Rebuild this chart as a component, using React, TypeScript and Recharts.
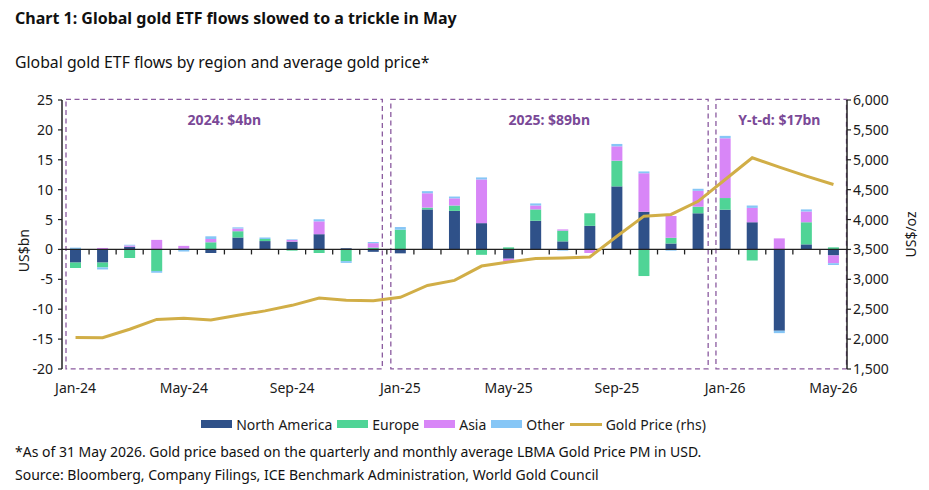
import React from 'react';
import { ComposedChart, Bar, Line, XAxis, YAxis, ReferenceLine, ReferenceArea, Legend } from 'recharts';

const months = [
  'Jan-24', 'Feb-24', 'Mar-24', 'Apr-24', 'May-24', 'Jun-24', 'Jul-24', 'Aug-24', 'Sep-24', 'Oct-24', 'Nov-24', 'Dec-24',
  'Jan-25', 'Feb-25', 'Mar-25', 'Apr-25', 'May-25', 'Jun-25', 'Jul-25', 'Aug-25', 'Sep-25', 'Oct-25', 'Nov-25', 'Dec-25',
  'Jan-26', 'Feb-26', 'Mar-26', 'Apr-26', 'May-26',
];

const northAmerica = [
  -2.2, -2.2, 0.45, 0, 0.15, -0.6, 2.0, 1.4, 1.3, 2.55, 0.2, -0.4,
  -0.65, 6.7, 6.45, 4.4, -1.55, 4.8, 1.35, 3.95, 10.55, 6.3, 1.0, 6.05,
  6.65, 4.55, -13.6, 0.85, -1.0,
];

const europe = [
  -0.9, -0.8, -1.45, -3.6, 0, 1.2, 1.05, 0.35, -0.2, -0.6, -1.95, 0.3,
  3.3, 0.3, 0.9, -0.9, 0.35, 1.9, 1.8, 2.1, 4.3, -4.45, 0.95, 1.1,
  1.95, -1.85, 0, 3.7, 0.35,
];

const asia = [
  0, 0.25, 0.2, 1.6, 0.45, 0.55, 0.45, 0, 0.3, 2.15, 0, 0.75,
  0, 2.4, 1.2, 7.3, -0.5, 0.65, 0.2, -0.6, 2.4, 6.45, 3.65, 2.65,
  10.0, 2.4, 1.85, 1.8, -1.3,
];

const other = [
  0.3, -0.35, 0.15, -0.3, -0.35, 0.45, 0.2, 0.25, 0.1, 0.35, -0.3, 0.2,
  0.45, 0.35, 0.3, 0.35, 0, 0.35, -0.2, 0, 0.4, 0.3, -0.2, 0.35,
  0.4, 0.4, -0.4, 0.35, -0.3,
];

const goldPrice = [
  2028, 2024, 2165, 2330, 2350, 2320, 2400, 2472, 2565, 2688, 2650, 2640,
  2700, 2897, 2982, 3222, 3290, 3350, 3358, 3375, 3720, 4057, 4085, 4305,
  4670, 5034, 4877, 4727, 4587,
];

const leftTicks = [-20, -15, -10, -5, 0, 5, 10, 15, 20, 25];
const rightTicks = [1500, 2000, 2500, 3000, 3500, 4000, 4500, 5000, 5500, 6000];

const periodStarts = ['Jan-24', 'Jan-25', 'Jan-26'];
const periodEnds = ['Dec-24', 'Dec-25', 'May-26'];
const periodLabels = ['2024: $4bn', '2025: $89bn', 'Y-t-d: $17bn'];

const seriesKeys = ['na', 'eu', 'asia', 'other'];
const seriesNames = ['North America', 'Europe', 'Asia', 'Other'];
const seriesColors = ['#2f5189', '#4fd496', '#d886f7', '#86c6f6'];
const goldName = 'Gold Price (rhs)';
const goldColor = '#d1ae47';

const LEFT_MIN = -20;
const LEFT_MAX = 25;
const LABEL_EVERY = 4;

// layout
const CHART_W = 929;
const CHART_H = 490;
const MARGIN = { top: 100, right: 22, bottom: 71, left: 0 };
const LEFT_AXIS_W = 62;
const RIGHT_AXIS_W = 60;
const X_AXIS_H = 30;
const LEGEND_H = 20;
const PLOT_W = CHART_W - MARGIN.left - MARGIN.right - LEFT_AXIS_W - RIGHT_AXIS_W;
const PLOT_H = CHART_H - MARGIN.top - MARGIN.bottom - X_AXIS_H - LEGEND_H;
const ZERO_Y = MARGIN.top + (PLOT_H * LEFT_MAX) / (LEFT_MAX - LEFT_MIN);
const HALF_BAND = PLOT_W / months.length / 2;

const FONT = '"Noto Sans", "Open Sans", sans-serif';
const TEXT = '#1a1a1a';
const AXIS = '#222';
const PURPLE = '#8a5a9f';
const PURPLE_TEXT = '#7a4997';

const data = months.map((m, i) => ({
  month: m,
  na: northAmerica[i],
  eu: europe[i],
  asia: asia[i],
  other: other[i],
  gold: goldPrice[i],
}));

const boxInsets = [
  [4, 4.5],
  [4, 3.5],
  [4.3, 0.5],
];

const makeBox = (idx: number) => (props: any) => {
  const { x, y, width, height } = props;
  const [l, r] = boxInsets[idx];
  return (
    <rect
      x={x + l}
      y={y - 0.7}
      width={width - l - r}
      height={height + 0.5}
      fill="none"
      stroke={PURPLE}
      strokeWidth={1.3}
      strokeDasharray="5 3.5"
    />
  );
};

// tick label every 4 months, plus a short tick on the zero line at each month boundary
const MonthTick = (props: any) => {
  const { x, y, payload, index } = props;
  const bx = Number(x) + HALF_BAND;
  return (
    <g>
      {index < months.length - 1 ? (
        <path d={`M${bx},${ZERO_Y}L${bx},${ZERO_Y + 5}`} stroke={AXIS} strokeWidth={1.3} fill="none" />
      ) : null}
      {index % LABEL_EVERY === 0 ? (
        <text x={x} y={y} dy="0.71em" textAnchor="middle" fontSize={14} fontFamily={FONT} fill={TEXT}>
          {payload.value}
        </text>
      ) : null}
    </g>
  );
};

const LeftTitle = (props: any) => {
  const vb = props.viewBox || {};
  const cx = vb.x + 23;
  const cy = vb.y + vb.height * 0.56;
  return (
    <text
      transform={`translate(${cx},${cy}) rotate(-90)`}
      textAnchor="middle"
      dominantBaseline="central"
      fontSize={14}
      fontFamily={FONT}
      fill={TEXT}
    >
      US$bn
    </text>
  );
};

const RightTitle = (props: any) => {
  const vb = props.viewBox || {};
  const cx = vb.x + 63;
  const cy = vb.y + vb.height * 0.5;
  return (
    <text
      transform={`translate(${cx},${cy}) rotate(-90)`}
      textAnchor="middle"
      dominantBaseline="central"
      fontSize={14}
      fontFamily={FONT}
      fill={TEXT}
    >
      US$/oz
    </text>
  );
};

const LegendContent = () => (
  <div
    style={{
      display: 'flex',
      justifyContent: 'center',
      alignItems: 'center',
      height: LEGEND_H,
      fontFamily: FONT,
      fontSize: 14,
      color: TEXT,
      whiteSpace: 'nowrap',
    }}
  >
    {seriesNames.map((n, i) => (
      <div key={n} style={{ display: 'flex', alignItems: 'center', marginRight: 5 }}>
        <span style={{ display: 'inline-block', width: 31, height: 8, background: seriesColors[i], marginRight: 4 }} />
        <span>{n}</span>
      </div>
    ))}
    <div style={{ display: 'flex', alignItems: 'center' }}>
      <span style={{ display: 'inline-block', width: 32, height: 3, background: goldColor, marginRight: 4 }} />
      <span>{goldName}</span>
    </div>
  </div>
);

export default function App() {
  const tickStyle = { fontSize: 14, fill: TEXT, fontFamily: FONT };
  return (
    <div style={{ position: 'absolute', left: 0, top: 0, width: CHART_W, height: CHART_H, background: '#fff', fontFamily: FONT }}>
      <svg width={CHART_W} height={CHART_H} style={{ position: 'absolute', left: 0, top: 0 }}>
        <text x={15} y={24} fontSize={16} fontWeight={700} fontFamily={FONT} fill="#111">
          Chart 1: Global gold ETF flows slowed to a trickle in May
        </text>
        <text x={15} y={68} fontSize={15.8} fontFamily={FONT} fill="#111">
          Global gold ETF flows by region and average gold price*
        </text>
        <text x={15} y={457} fontSize={14} fontFamily={FONT} fill="#111">
          *As of 31 May 2026. Gold price based on the quarterly and monthly average LBMA Gold Price PM in USD.
        </text>
        <text x={15} y={480} fontSize={14} fontFamily={FONT} fill="#111">
          Source: Bloomberg, Company Filings, ICE Benchmark Administration, World Gold Council
        </text>
      </svg>
      <div style={{ position: 'absolute', left: 0, top: 0 }}>
        <ComposedChart
          width={CHART_W}
          height={CHART_H}
          data={data}
          stackOffset="sign"
          barSize={11}
          margin={MARGIN}
        >
          {periodStarts.map((s, i) => (
            <ReferenceArea
              key={s}
              yAxisId="left"
              x1={s}
              x2={periodEnds[i]}
              y1={LEFT_MIN}
              y2={LEFT_MAX}
              shape={makeBox(i)}
              label={{
                value: periodLabels[i],
                position: 'insideTop',
                offset: 15,
                fill: PURPLE_TEXT,
                fontSize: 14,
                fontWeight: 700,
                fontFamily: FONT,
              }}
            />
          ))}
          <XAxis
            dataKey="month"
            interval={0}
            tickLine={false}
            axisLine={false}
            tick={<MonthTick />}
            tickMargin={8}
            height={X_AXIS_H}
          />
          <YAxis
            yAxisId="left"
            width={LEFT_AXIS_W}
            domain={[LEFT_MIN, LEFT_MAX]}
            ticks={leftTicks}
            interval={0}
            tick={tickStyle}
            tickSize={4}
            tickMargin={5}
            axisLine={{ stroke: AXIS, strokeWidth: 1.5 }}
            tickLine={{ stroke: AXIS, strokeWidth: 1.2 }}
            label={{ content: <LeftTitle /> }}
          />
          <YAxis
            yAxisId="right"
            orientation="right"
            width={RIGHT_AXIS_W}
            domain={[1500, 6000]}
            ticks={rightTicks}
            interval={0}
            tick={tickStyle}
            tickSize={4}
            tickMargin={2}
            tickFormatter={(v: number) => v.toLocaleString('en-US')}
            axisLine={{ stroke: AXIS, strokeWidth: 1.5 }}
            tickLine={{ stroke: AXIS, strokeWidth: 1.2 }}
            label={{ content: <RightTitle /> }}
          />
          <ReferenceLine yAxisId="left" y={0} stroke={AXIS} strokeWidth={1.2} />
          {seriesKeys.map((k, i) => (
            <Bar
              key={k}
              yAxisId="left"
              dataKey={k}
              name={seriesNames[i]}
              stackId="flows"
              fill={seriesColors[i]}
              isAnimationActive={false}
            />
          ))}
          <Line
            yAxisId="right"
            dataKey="gold"
            name={goldName}
            type="linear"
            stroke={goldColor}
            strokeWidth={3}
            dot={false}
            activeDot={false}
            isAnimationActive={false}
          />
          <Legend
            verticalAlign="bottom"
            content={<LegendContent />}
            wrapperStyle={{ bottom: 56, height: LEGEND_H }}
          />
        </ComposedChart>
      </div>
    </div>
  );
}
